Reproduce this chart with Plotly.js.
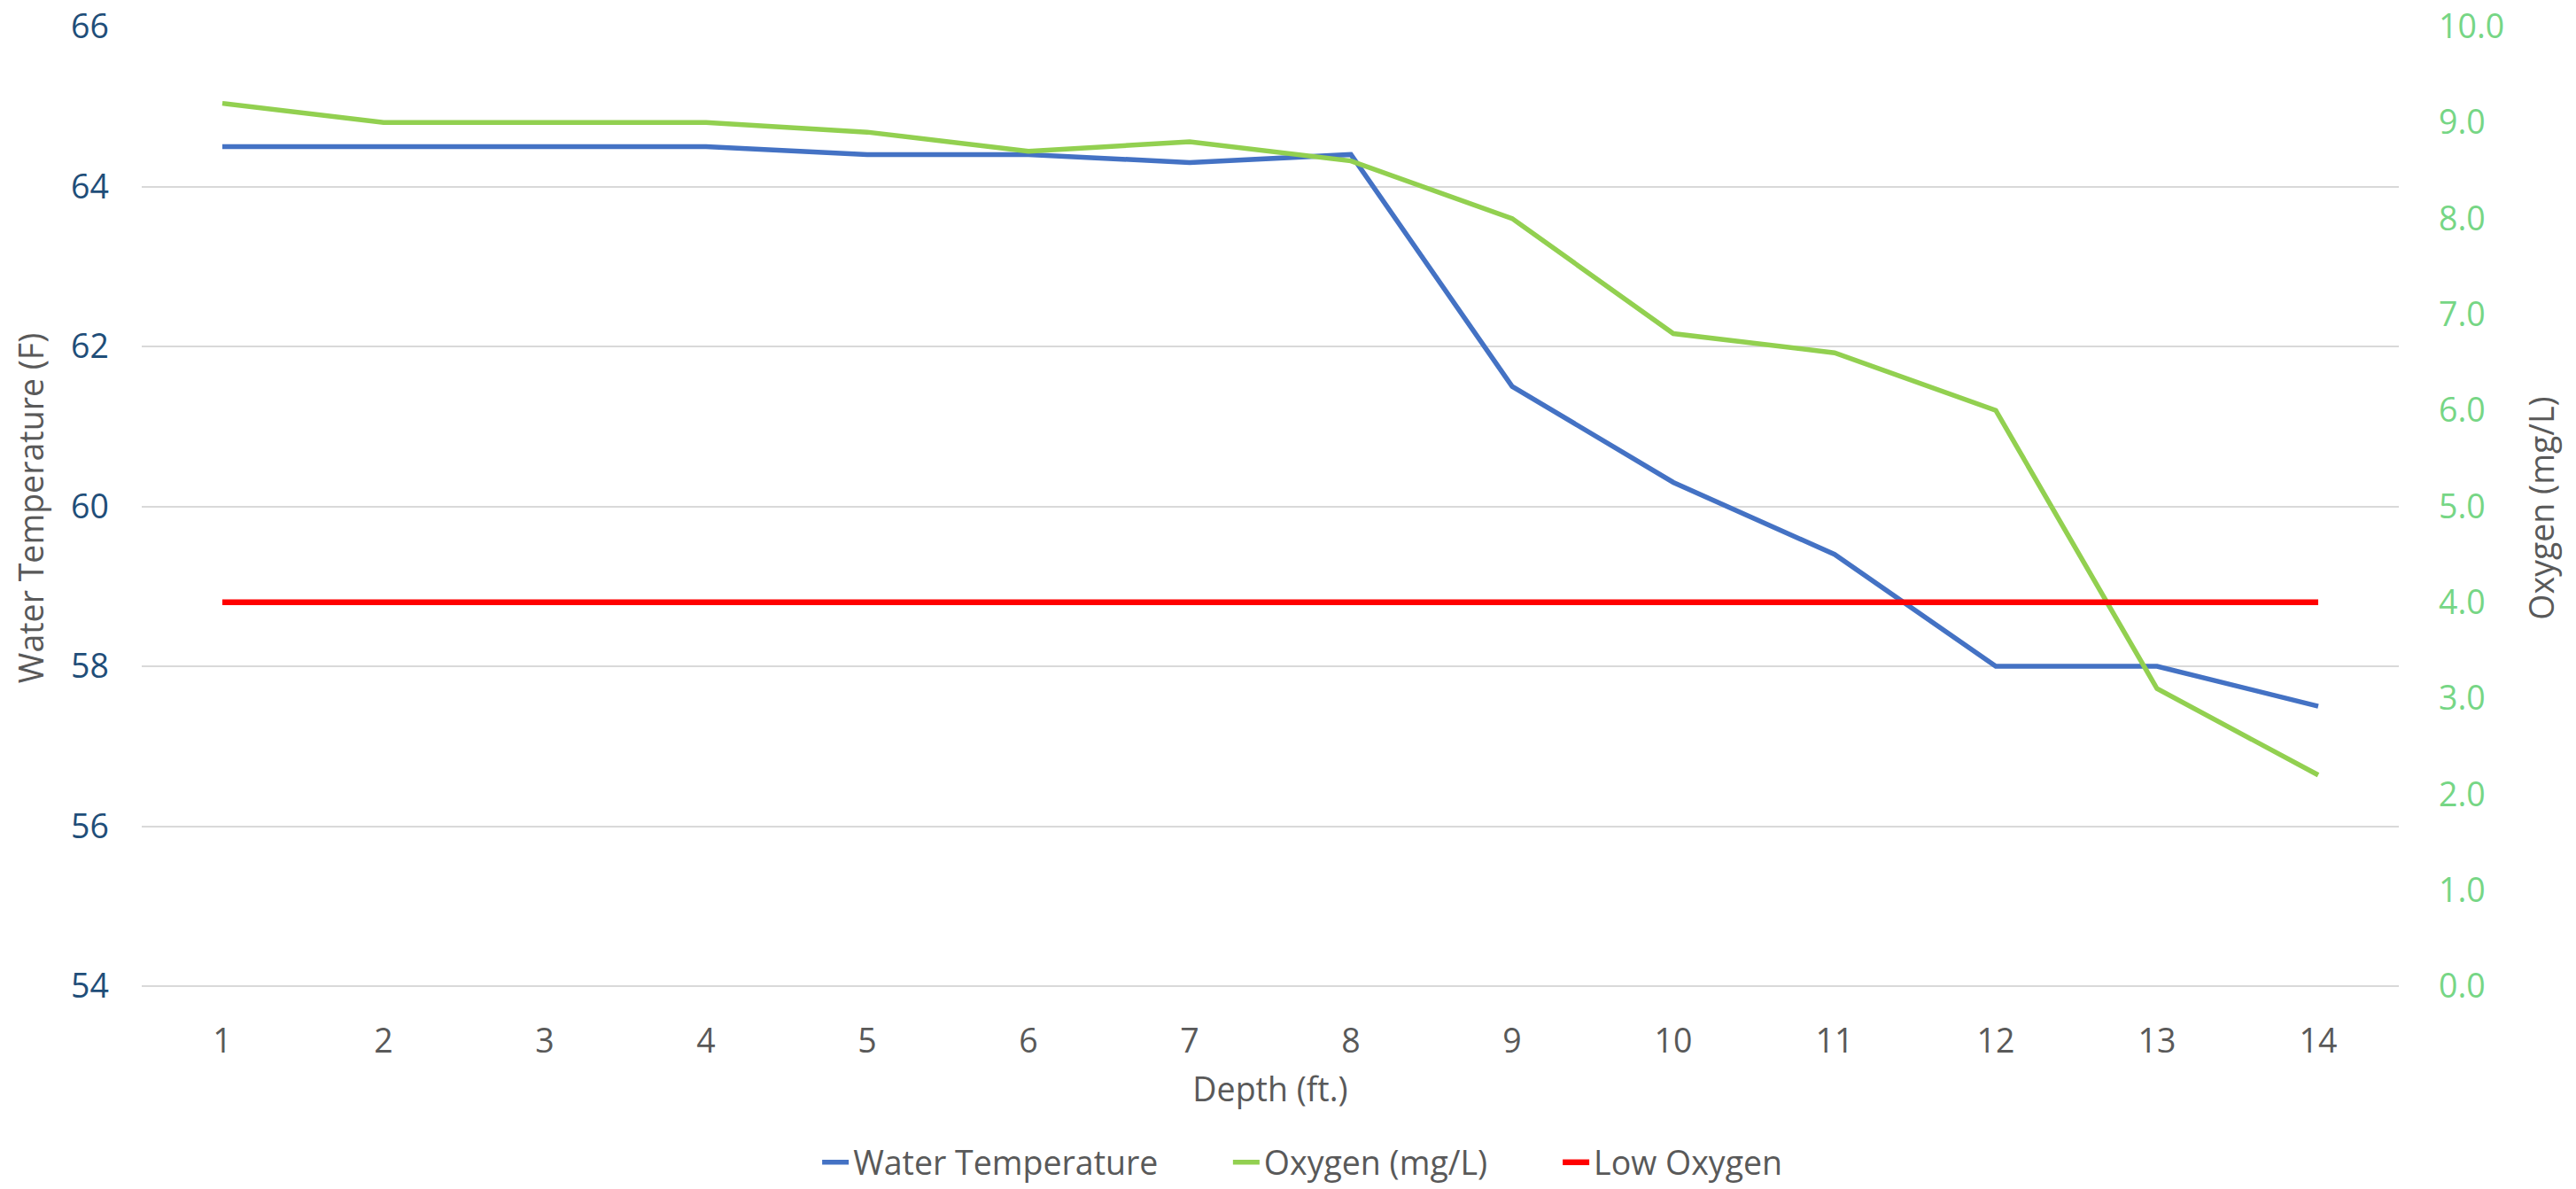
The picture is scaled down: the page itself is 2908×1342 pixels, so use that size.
<!DOCTYPE html>
<html>
<head>
<meta charset="utf-8">
<script src="https://cdn.plot.ly/plotly-3.0.1.min.js"></script>
<style>
  html, body { margin: 0; padding: 0; background: #ffffff; }
  #chart { width: 2908px; height: 1342px; }
</style>
</head>
<body>
<div id="chart"></div>
<script>
// Data
const depthLabels = ["1","2","3","4","5","6","7","8","9","10","11","12","13","14"];
const waterTemperature = [64.5, 64.5, 64.5, 64.5, 64.4, 64.4, 64.3, 64.4, 61.5, 60.3, 59.4, 58.0, 58.0, 57.5];
const oxygen = [9.2, 9.0, 9.0, 9.0, 8.9, 8.7, 8.8, 8.6, 8.0, 6.8, 6.6, 6.0, 3.1, 2.2];
const lowOxygen = [4.0, 4.0, 4.0, 4.0, 4.0, 4.0, 4.0, 4.0, 4.0, 4.0, 4.0, 4.0, 4.0, 4.0];
const tempTicks = [54, 56, 58, 60, 62, 64, 66];
const oxygenTicks = [0, 1, 2, 3, 4, 5, 6, 7, 8, 9, 10];

const FONT = "'Open Sans', 'Noto Sans', sans-serif";
const GRAY = "#595959";
const LEGEND_FONT = { family: FONT, size: 37.5, color: GRAY };

const traces = [
  {
    x: depthLabels, y: waterTemperature, name: "Water Temperature",
    type: "scatter", mode: "lines", yaxis: "y", legend: "legend",
    line: { color: "#4472C4", width: 5.5 }
  },
  {
    x: depthLabels, y: oxygen, name: "Oxygen (mg/L)",
    type: "scatter", mode: "lines", yaxis: "y2", legend: "legend2",
    line: { color: "#92D050", width: 5.5 }
  },
  {
    x: depthLabels, y: lowOxygen, name: "Low Oxygen",
    type: "scatter", mode: "lines", yaxis: "y2", legend: "legend3",
    line: { color: "#FF0000", width: 6.5 }
  }
];

function legendAt(xPaper) {
  return {
    orientation: "h", x: xPaper, xanchor: "left",
    yref: "container", y: 0.0224, yanchor: "middle",
    font: LEGEND_FONT, bgcolor: "rgba(0,0,0,0)", borderwidth: 0
  };
}

const layout = {
  width: 2908, height: 1342,
  margin: { l: 160, r: 200, t: 30, b: 225, pad: 0 },
  paper_bgcolor: "#ffffff", plot_bgcolor: "#ffffff",
  font: { family: FONT, size: 37.5, color: GRAY },
  showlegend: true,
  legend: legendAt(0.2995),
  legend2: legendAt(0.4815),
  legend3: legendAt(0.6276),
  xaxis: {
    type: "category", range: [-0.5, 13.5], automargin: false,
    showgrid: false, zeroline: false, showline: false,
    ticks: "", ticklabelstandoff: 32,
    tickfont: { family: FONT, size: 37.5, color: GRAY },
    title: { text: "Depth (ft.)", font: { family: FONT, size: 37.5, color: GRAY }, standoff: 19 },
    fixedrange: true
  },
  yaxis: {
    range: [53.9557, 66], tickvals: tempTicks, automargin: false,
    showgrid: true, gridcolor: "#D9D9D9", gridwidth: 2,
    zeroline: false, showline: false, ticks: "", ticklabelstandoff: 36,
    tickfont: { family: FONT, size: 37.5, color: "#1F4E79" },
    title: { text: "Water Temperature (F)", font: { family: FONT, size: 37.5, color: GRAY }, standoff: 18 }
  },
  yaxis2: {
    overlaying: "y", side: "right", automargin: false,
    range: [-0.0369, 10], tickvals: oxygenTicks, tickformat: ".1f",
    showgrid: false, zeroline: false, showline: false, ticks: "", ticklabelstandoff: 44,
    tickfont: { family: FONT, size: 37.5, color: "#76D685" },
    title: { text: "Oxygen (mg/L)", font: { family: FONT, size: 37.5, color: GRAY }, standoff: 30 }
  }
};

Plotly.newPlot("chart", traces, layout, { staticPlot: true, displayModeBar: false });
</script>
</body>
</html>
